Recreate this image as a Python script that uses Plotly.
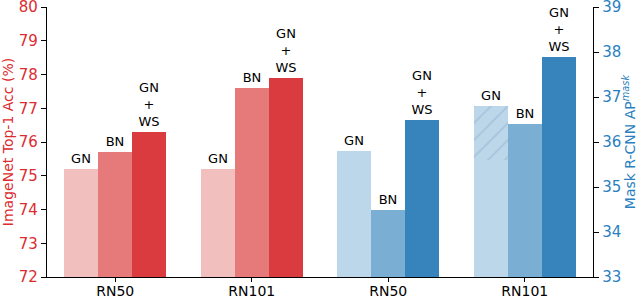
import plotly.graph_objects as go

groups = ["RN50", "RN101", "RN50", "RN101"]
group_pos = [0, 1, 2, 3]
methods = ["GN", "BN", "GN+WS"]
method_labels = ["GN", "BN", "GN<br>+<br>WS"]

# ImageNet top-1 accuracy (left axis)
imagenet = {"GN": [75.2, 75.2], "BN": [75.7, 77.6], "GN+WS": [76.3, 77.9]}
# Mask R-CNN AP^mask (right axis)
coco = {"GN": [35.8, 35.6], "BN": [34.5, 36.4], "GN+WS": [36.5, 37.9]}
coco_gn_hatched_top = [36.8]  # RN101 GN extra (hatched) portion

red_colors = ["#f2bfbf", "#e67a7b", "#da3b3f"]
blue_colors = ["#bdd7ea", "#7aaed3", "#3784bc"]
offsets = [-0.25, 0.0, 0.25]
W = 0.25
FONT = "DejaVu Sans"

fig = go.Figure()

for i, m in enumerate(methods):
    xs = [group_pos[0] + offsets[i], group_pos[1] + offsets[i]]
    fig.add_trace(go.Bar(
        x=xs, y=[v - 72 for v in imagenet[m]], base=72, width=W,
        marker=dict(color=red_colors[i], line=dict(width=0)),
        text=[method_labels[i]] * 2, textposition="outside",
        textfont=dict(size=13, color="black", family=FONT),
        constraintext="none", cliponaxis=False, yaxis="y", showlegend=False,
        hoverinfo="skip",
    ))

for i, m in enumerate(methods):
    xs = [group_pos[2] + offsets[i], group_pos[3] + offsets[i]]
    texts = [method_labels[i]] * 2
    if m == "GN":
        texts = [method_labels[i], ""]
    fig.add_trace(go.Bar(
        x=xs, y=[v - 33 for v in coco[m]], base=33, width=W,
        marker=dict(color=blue_colors[i], line=dict(width=0)),
        text=texts, textposition="outside",
        textfont=dict(size=13, color="black", family=FONT),
        constraintext="none", cliponaxis=False, yaxis="y2", showlegend=False,
        hoverinfo="skip",
    ))

# hatched extra portion for RN101 GN
fig.add_trace(go.Bar(
    x=[group_pos[3] + offsets[0]],
    y=[coco_gn_hatched_top[0] - coco["GN"][1]], base=coco["GN"][1], width=W,
    marker=dict(color=blue_colors[0], line=dict(width=0),
                pattern=dict(shape="/", fgcolor="#8db0d0", bgcolor=blue_colors[0],
                             size=12, solidity=0.14)),
    text=["GN"], textposition="outside",
    textfont=dict(size=13, color="black", family=FONT),
    constraintext="none", cliponaxis=False, yaxis="y2", showlegend=False,
    hoverinfo="skip",
))

red = "#dc2c30"
blue = "#2a7fc0"

fig.update_layout(
    width=638, height=298,
    margin=dict(l=47, r=45, t=7, b=21, autoexpand=False),
    plot_bgcolor="white", paper_bgcolor="white",
    barmode="overlay", bargap=0,
    font=dict(family=FONT, color="black"),
    xaxis=dict(
        range=[-0.5, 3.5], tickvals=group_pos, ticktext=groups,
        showline=True, linecolor="black", linewidth=1.3,
        ticks="outside", ticklen=4, tickcolor="black", automargin=False,
        ticklabelstandoff=-3, ticklabeloverflow="allow",
        tickfont=dict(size=14, color="black"), showgrid=False, zeroline=False,
    ),
    yaxis=dict(
        range=[72, 80], dtick=1, showline=True, linecolor="black", linewidth=1.3,
        ticks="outside", ticklen=5, tickcolor="black", automargin=False,
        ticklabeloverflow="allow",
        tickfont=dict(size=15, color=red), showgrid=False, zeroline=False,
        title=dict(text="ImageNet Top-1 Acc (%)", font=dict(size=14, color=red), standoff=4),
    ),
    yaxis2=dict(
        range=[33, 39], dtick=1, overlaying="y", side="right",
        showline=True, linecolor="black", linewidth=1.3, automargin=False,
        ticks="outside", ticklen=5, tickcolor="black", ticklabeloverflow="allow",
        tickfont=dict(size=15, color=blue), showgrid=False, zeroline=False,
        title=dict(text="Mask R-CNN AP<sup><i>mask</i></sup>", font=dict(size=14, color=blue), standoff=4),
    ),
)

fig.write_html("out.html", config={"displayModeBar": False},
               post_script="document.body.style.margin='0';document.body.style.overflow='hidden';")
